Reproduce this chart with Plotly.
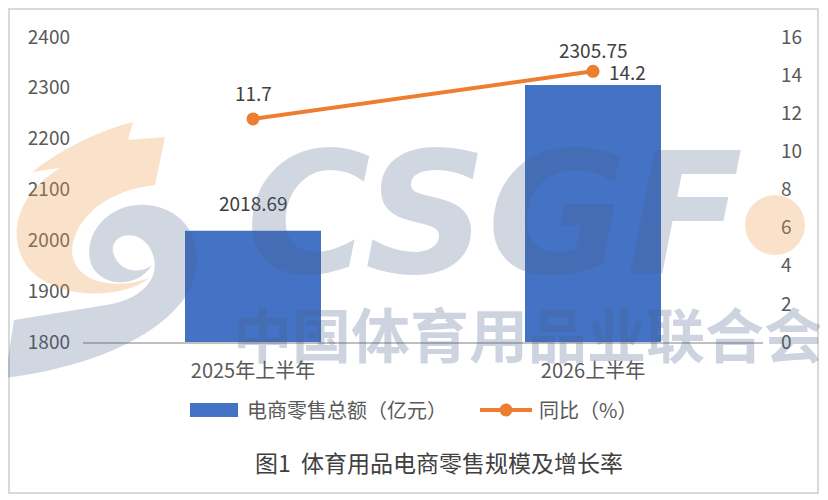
import plotly.graph_objects as go

# data
categories = ["2025年上半年", "2026上半年"]
sales = [2018.69, 2305.75]          # 电商零售总额（亿元）
growth = [11.7, 14.2]               # 同比（%）
left_ticks = [1800, 1900, 2000, 2100, 2200, 2300, 2400]
right_ticks = [0, 2, 4, 6, 8, 10, 12, 14, 16]

FONT = "Noto Sans CJK SC"
TXT = "#595959"
BLUE = "#4472C4"
ORANGE = "#ED7D31"
WM_GRAY = "rgba(70,95,135,0.25)"
WM_ORANGE = "rgba(240,160,80,0.3)"


# page pixel -> paper coords (plot area spans x 83..763, y 37..342 on the page)
def px(x):
    return (x - 83) / 680


def py(y):
    return (342 - y) / 305


def path_px(pts):
    # pts: list of ("M"/"L"/"C", [x, y, ...]) in page pixels
    out = []
    for cmd, nums in pts:
        conv = []
        for i in range(0, len(nums), 2):
            conv.append(f"{px(nums[i]):.4f} {py(nums[i + 1]):.4f}")
        out.append(cmd + " " + ", ".join(conv))
    return " ".join(out)


fig = go.Figure()

fig.add_trace(go.Bar(
    x=categories, y=sales, name="电商零售总额（亿元）",
    marker=dict(color=BLUE, line=dict(width=0)), width=0.4,
    showlegend=False,
))

fig.add_trace(go.Scatter(
    x=categories, y=growth, name="同比（%）", yaxis="y2",
    mode="lines+markers",
    line=dict(color=ORANGE, width=4),
    marker=dict(color=ORANGE, size=13),
    cliponaxis=False, showlegend=False,
))

# data labels
bar_shift = [28, 35]
for c, v, s in zip(categories, sales, bar_shift):
    fig.add_annotation(x=c, y=v, yref="y", text=f"{v:.2f}", showarrow=False,
                       yshift=s, font=dict(size=19, color="#404040"))
fig.add_annotation(x=categories[0], y=growth[0], yref="y2", text=str(growth[0]),
                   showarrow=False, yshift=26, font=dict(size=19, color="#404040"))
fig.add_annotation(x=categories[1], y=growth[1], yref="y2", text=str(growth[1]),
                   showarrow=False, xanchor="left", xshift=14,
                   font=dict(size=19, color="#404040"))

# watermark (logo + association name)
fig.add_annotation(xref="paper", yref="paper", x=px(495), y=py(214),
                   xanchor="center", yanchor="middle",
                   text="<b><i>CSGF</i></b>", showarrow=False,
                   font=dict(size=170, color=WM_GRAY, family="DejaVu Sans"))
fig.add_annotation(xref="paper", yref="paper", x=px(528), y=py(332),
                   xanchor="center", yanchor="middle",
                   text="<b>中国体育用品业联合会</b>", showarrow=False,
                   font=dict(size=59, color="rgba(70,95,135,0.27)", family=FONT))
fig.add_shape(type="circle", xref="paper", yref="paper", layer="above",
              x0=px(745), x1=px(805), y0=py(255), y1=py(195),
              fillcolor=WM_ORANGE, line=dict(width=0))
orange_swirl = [
    ("M", [133, 122]), ("L", [128, 140]), ("L", [165, 137]), ("L", [155, 185]),
    ("C", [110, 190, 75, 215, 72, 250]),
    ("C", [72, 280, 110, 292, 150, 278]),
    ("C", [120, 300, 60, 300, 30, 270]),
    ("C", [5, 240, 15, 195, 60, 168]),
    ("L", [32, 172]),
    ("C", [60, 150, 100, 130, 133, 122]),
]
fig.add_shape(type="path", xref="paper", yref="paper", layer="above",
              path=path_px(orange_swirl) + " Z",
              fillcolor=WM_ORANGE, line=dict(width=0))
gray_swirl = [
    ("M", [5, 378]),
    ("C", [110, 365, 195, 320, 197, 262]),
    ("C", [198, 220, 165, 203, 138, 205]),
    ("C", [105, 207, 85, 235, 90, 260]),
    ("C", [95, 285, 135, 292, 152, 265]),
    ("C", [140, 275, 118, 272, 113, 252]),
    ("C", [110, 235, 135, 228, 148, 245]),
    ("C", [165, 270, 150, 300, 100, 306]),
    ("L", [14, 320]),
]
fig.add_shape(type="path", xref="paper", yref="paper", layer="above",
              path=path_px(gray_swirl) + " Z",
              fillcolor=WM_GRAY, line=dict(width=0))

# legend drawn by hand (wide bar swatch like the original)
fig.add_shape(type="rect", xref="paper", yref="paper",
              x0=px(190), x1=px(238), y0=py(417), y1=py(403),
              fillcolor=BLUE, line=dict(width=0))
fig.add_annotation(xref="paper", yref="paper", x=px(245), y=py(410),
                   xanchor="left", yanchor="middle", showarrow=False,
                   text="电商零售总额（亿元）", font=dict(size=20, color=TXT))
fig.add_shape(type="line", xref="paper", yref="paper",
              x0=px(480), x1=px(532), y0=py(410), y1=py(410),
              line=dict(color=ORANGE, width=4))
fig.add_shape(type="circle", xref="paper", yref="paper",
              x0=px(499.5), x1=px(512.5), y0=py(416.5), y1=py(403.5),
              fillcolor=ORANGE, line=dict(width=0))
fig.add_annotation(xref="paper", yref="paper", x=px(537), y=py(410),
                   xanchor="left", yanchor="middle", showarrow=False,
                   text="同比（%）", font=dict(size=20, color=TXT))

# caption
fig.add_annotation(xref="paper", yref="paper", x=px(439), y=py(462),
                   xanchor="center", yanchor="middle", showarrow=False,
                   text="图1  体育用品电商零售规模及增长率",
                   font=dict(size=23, color="#404040"))

# outer border
fig.add_shape(type="rect", xref="paper", yref="paper", layer="below",
              x0=px(9), x1=px(818), y0=py(493), y1=py(9),
              line=dict(color="#d9d9d9", width=2))

# the page body adds 8px, so the figure is 8px smaller and margins shifted
fig.update_layout(
    width=820, height=492,
    margin=dict(l=75, r=65, t=29, b=158),
    paper_bgcolor="white", plot_bgcolor="rgba(0,0,0,0)",
    font=dict(family=FONT, color=TXT, size=19),
    xaxis=dict(showline=True, linecolor="#bfbfbf", linewidth=1.5, ticks="",
               tickfont=dict(size=20, color=TXT), showgrid=False,
               ticklabelstandoff=10, range=[-0.5, 1.5]),
    yaxis=dict(range=[1800, 2400], tickvals=left_ticks, showgrid=False,
               zeroline=False, showline=False, ticklabelstandoff=12,
               tickfont=dict(size=19, color=TXT)),
    yaxis2=dict(range=[0, 16], tickvals=right_ticks, overlaying="y", side="right",
                showgrid=False, zeroline=False, showline=False,
                ticklabelstandoff=17, tickfont=dict(size=19, color=TXT)),
    showlegend=False,
)

fig.write_html("out.html")
